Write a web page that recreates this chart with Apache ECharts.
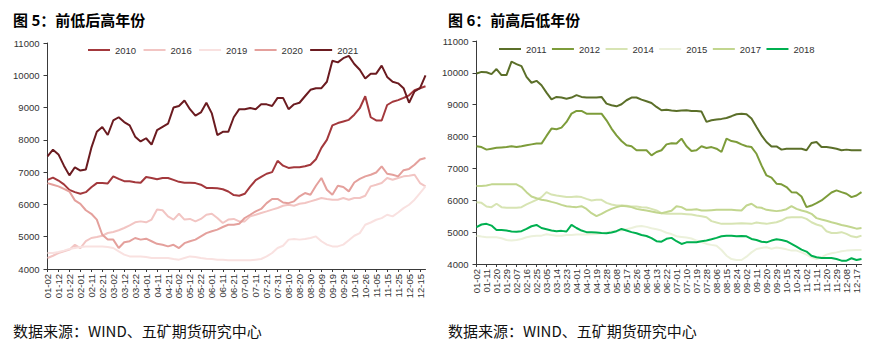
<!DOCTYPE html>
<html>
<head>
<meta charset="utf-8">
<script src="https://cdn.jsdelivr.net/npm/echarts/dist/echarts.min.js"></script>
<style>
html, body { margin: 0; padding: 0; background: #fff; }
#main { width: 871px; height: 351px; }
</style>
</head>
<body>
<div id="main"></div>
<script>
let chart = echarts.init(document.getElementById('main'), null, { renderer: 'svg' });

// 图5 横轴日期（偶数位为显示的刻度标签）
let daysLeft = ['01-02','01-07','01-12','01-17','01-22','01-27','02-01','02-06','02-11','02-16',
	'02-21','02-26','03-02','03-07','03-12','03-17','03-22','03-27','04-01','04-06',
	'04-11','04-16','04-21','04-27','05-02','05-07','05-12','05-17','05-22','05-27',
	'06-01','06-06','06-11','06-16','06-21','06-26','07-01','07-06','07-11','07-16',
	'07-21','07-26','07-31','08-05','08-10','08-15','08-20','08-25','08-30','09-04',
	'09-09','09-14','09-19','09-24','09-29','10-10','10-16','10-21','10-26','10-31',
	'11-05','11-10','11-15','11-20','11-25','11-30','12-05','12-10','12-15','12-20'];

// 图6 横轴日期
let daysRight = ['01-02','01-06','01-11','01-15','01-20','01-24','01-29','02-02','02-07','02-11',
	'02-16','02-20','02-25','03-01','03-05','03-09','03-14','03-18','03-23','03-27',
	'04-01','04-05','04-10','04-14','04-19','04-23','04-28','05-03','05-08','05-12',
	'05-17','05-21','05-26','05-30','06-04','06-08','06-13','06-17','06-22','06-26',
	'07-01','07-05','07-10','07-14','07-19','07-23','07-28','08-01','08-06','08-10',
	'08-15','08-19','08-24','08-28','09-02','09-06','09-11','09-15','09-20','09-24',
	'09-29','10-08','10-15','10-19','10-24','10-28','11-02','11-06','11-11','11-15',
	'11-20','11-24','11-29','12-03','12-08','12-12','12-17','12-21'];

let yearsLeft = ['2010', '2016', '2019', '2020', '2021'];
let yearsRight = ['2011', '2012', '2014', '2015', '2017', '2018'];

// 前低后高年份
let v2010 = [6760,6830,6740,6620,6450,6380,6330,6380,6530,6660,
	6660,6650,6870,6790,6720,6720,6690,6670,6850,6820,
	6780,6820,6820,6760,6700,6670,6670,6660,6610,6510,
	6510,6500,6470,6400,6290,6270,6330,6550,6750,6850,
	6950,7000,7350,7200,7130,7150,7150,7180,7230,7400,
	7750,8000,8450,8520,8570,8620,8780,8980,9350,8700,
	8600,8600,9080,9180,9230,9300,9380,9540,9600,9660];
let v2016 = [4340,4410,4495,4545,4600,4750,4650,4860,4960,4990,
	5030,5115,5145,5200,5270,5350,5445,5475,5445,5530,
	5840,5820,5630,5530,5710,5530,5550,5475,5550,5680,
	5710,5580,5425,5530,5550,5475,5475,5630,5680,5735,
	5785,5840,5890,5960,5990,5960,6020,6043,6095,6146,
	6200,6170,6146,6146,6200,6146,6200,6200,6270,6560,
	6610,6663,6820,6766,6820,6870,6890,6920,6663,6560];
let v2019 = [4495,4495,4525,4570,4620,4650,4680,4700,4700,4700,
	4700,4680,4650,4545,4445,4390,4390,4390,4370,4340,
	4340,4340,4340,4310,4290,4340,4390,4370,4340,4320,
	4310,4290,4290,4270,4270,4270,4270,4270,4290,4310,
	4390,4495,4650,4720,4910,4930,4910,4930,4960,5010,
	4860,4755,4700,4700,4755,4890,5030,5110,5370,5440,
	5525,5575,5680,5630,5750,5885,5990,6146,6353,6560];
let v2020 = [6660,6610,6560,6480,6400,6125,6020,5820,5710,5530,
	5060,4910,4910,4650,4830,4860,4960,4910,4940,4860,
	4780,4750,4700,4750,4650,4800,4860,4910,5010,5110,
	5170,5220,5300,5370,5370,5400,5580,5680,5785,5860,
	6040,6170,6170,6060,6040,6095,6250,6353,6300,6580,
	6820,6455,6300,6580,6540,6405,6680,6790,6870,6920,
	6990,7180,6950,6920,6870,7060,7100,7230,7390,7440];
let v2021 = [7490,7695,7550,7200,6900,7150,7050,7080,7750,8250,
	8400,8150,8600,8700,8550,8450,8100,7950,8050,7850,
	8300,8400,8500,9000,9050,9220,8950,8750,8850,9150,
	8820,8150,8250,8250,8700,8950,8950,8985,8950,9100,
	9100,9050,9300,9300,8950,9100,9150,9350,9550,9600,
	9600,9800,10450,10400,10530,10600,10350,10170,9900,10050,
	10050,10300,9950,9800,9750,9600,9150,9500,9600,10000];

// 前高后低年份
let v2011 = [9980,10030,10020,9960,10120,9930,9930,10350,10275,10210,
	9875,9690,9750,9610,9380,9170,9245,9225,9190,9225,
	9300,9245,9225,9225,9225,9245,9035,8985,8950,9015,
	9140,9225,9225,9160,9110,9055,8930,8825,8840,8820,
	8805,8815,8825,8805,8805,8785,8460,8510,8535,8555,
	8585,8640,8700,8720,8700,8565,8300,8040,7830,7690,
	7690,7590,7620,7620,7620,7620,7570,7800,7830,7675,
	7675,7650,7620,7570,7590,7570,7570,7570];
let v2012 = [7695,7670,7590,7620,7650,7660,7670,7695,7670,7695,
	7725,7755,7780,7780,8020,8250,8230,8280,8460,8720,
	8805,8805,8720,8720,8720,8720,8510,8250,8040,7860,
	7725,7695,7570,7570,7570,7410,7515,7570,7755,7790,
	7780,7935,7695,7545,7570,7695,7640,7670,7620,7515,
	7935,7860,7830,7755,7695,7670,7460,7095,6780,6710,
	6520,6500,6415,6255,6245,6120,5785,5835,5910,5995,
	6120,6245,6310,6255,6205,6100,6150,6255];
let v2014 = [5940,5920,5805,5785,5890,5785,5765,5765,5765,5785,
	5870,5940,6015,6100,6255,6180,6150,6130,6100,6100,
	6120,6100,6045,5995,6015,6015,5920,5870,5835,5835,
	5825,5805,5805,5785,5775,5730,5680,5595,5575,5575,
	5575,5575,5565,5555,5520,5500,5470,5345,5300,5260,
	5260,5260,5270,5280,5270,5260,5300,5280,5260,5290,
	5310,5365,5450,5470,5470,5470,5415,5310,5240,5195,
	5030,4975,4975,5000,4945,4870,4840,4890];
let v2015 = [4890,4860,4840,4840,4840,4810,4755,4735,4755,4785,
	4840,4870,4890,4890,4935,4910,4890,4890,4910,4910,
	4925,4925,4925,4935,4945,4965,4990,5020,5040,5050,
	5090,5130,5175,5195,5165,5120,5090,5050,4980,4940,
	4870,4850,4830,4800,4735,4690,4630,4600,4575,4440,
	4260,4155,4125,4125,4230,4365,4470,4505,4525,4480,
	4515,4495,4460,4420,4420,4365,4295,4210,4155,4210,
	4295,4335,4365,4400,4420,4430,4440,4440];
let v2017 = [6445,6445,6465,6500,6500,6500,6500,6500,6500,6415,
	6255,6120,6065,6015,5995,5950,5910,5855,5815,5795,
	5785,5815,5730,5595,5500,5575,5660,5730,5785,5825,
	5815,5785,5730,5700,5680,5650,5615,5595,5630,5670,
	5815,5785,5700,5700,5720,5680,5680,5690,5700,5700,
	5700,5700,5690,5680,5835,5890,5785,5765,5700,5680,
	5660,5680,5720,5815,5730,5680,5640,5575,5440,5395,
	5355,5310,5270,5225,5195,5155,5110,5130];
let v2018 = [5155,5240,5260,5205,5070,5070,5050,5020,5010,5030,
	5100,5185,5225,5130,5090,5050,5030,5040,5020,5230,
	5130,5050,5000,5000,4990,4975,4965,4990,5030,5100,
	5050,5000,4965,4910,4880,4810,4715,4700,4790,4820,
	4715,4630,4680,4680,4680,4715,4735,4775,4820,4870,
	4890,4890,4870,4880,4870,4785,4755,4700,4680,4735,
	4775,4755,4715,4630,4545,4450,4390,4260,4210,4190,
	4190,4190,4155,4105,4105,4180,4125,4155];

let dataLeft = [v2010, v2016, v2019, v2020, v2021];
let dataRight = [v2011, v2012, v2014, v2015, v2017, v2018];
let colorsLeft = ['#A3383C', '#F2C5C3', '#F9E1E0', '#E4A09C', '#6B1B20'];
let colorsRight = ['#5B6F29', '#7D9C3A', '#D7E4B3', '#ECF1DB', '#C2D68F', '#00B050'];

let axisColor = '#3a3a3a';
let numFont = 'Liberation Sans, Arial, sans-serif';
let cnFont = 'Noto Sans CJK SC, sans-serif';

function buildY(idx) {
	return {
		gridIndex : idx,
		type : 'value',
		min : 4000,
		max : 11000,
		interval : 1000,
		axisLine : { show : true, lineStyle : { color : axisColor, width : 1 } },
		axisTick : { show : true, length : 4, lineStyle : { color : axisColor } },
		axisLabel : { fontSize : 9.5, color : '#333', margin : 8, fontFamily : numFont,
			formatter : function(v) { return String(v); } },
		splitLine : { show : false }
	};
}
function buildX(idx, days) {
	return {
		gridIndex : idx,
		type : 'category',
		boundaryGap : false,
		data : days,
		axisLine : { lineStyle : { color : axisColor, width : 1 } },
		axisTick : { interval : 1, length : 3, lineStyle : { color : axisColor } },
		axisLabel : { rotate : 90, interval : 1, fontSize : 9.5, color : '#333', margin : 5, fontFamily : numFont },
		splitLine : { show : false }
	};
}
function buildSeries(names, datas, colors, idx) {
	return names.map(function(name, i) {
		return {
			name : name,
			type : 'line',
			xAxisIndex : idx,
			yAxisIndex : idx,
			data : datas[i],
			symbol : 'none',
			animation : false,
			lineStyle : { width : 2, color : colors[i] },
			itemStyle : { color : colors[i] }
		};
	});
}

let option = {
	backgroundColor : '#fff',
	animation : false,
	title : [
		{ text : '图 5：前低后高年份', left : 8, top : 7, textStyle : { fontSize : 15, fontWeight : 'bold', color : '#000', fontFamily : cnFont } },
		{ text : '图 6：前高后低年份', left : 443, top : 7, textStyle : { fontSize : 15, fontWeight : 'bold', color : '#000', fontFamily : cnFont } },
		{ text : '数据来源：WIND、五矿期货研究中心', left : 8, top : 318, textStyle : { fontSize : 15, fontWeight : 'normal', color : '#111', fontFamily : cnFont } },
		{ text : '数据来源：WIND、五矿期货研究中心', left : 443, top : 318, textStyle : { fontSize : 15, fontWeight : 'normal', color : '#111', fontFamily : cnFont } }
	],
	legend : [
		{ data : yearsLeft, left : 88, top : 45, padding : 0, icon : 'rect', itemWidth : 22, itemHeight : 2, itemGap : 7.4,
			textStyle : { fontSize : 9.5, color : '#333', fontFamily : numFont } },
		{ data : yearsRight, left : 499, top : 44, padding : 0, icon : 'rect', itemWidth : 22, itemHeight : 2, itemGap : 5.5,
			textStyle : { fontSize : 9.5, color : '#333', fontFamily : numFont } }
	],
	grid : [
		{ left : 47.5, top : 43, width : 378, height : 226 },
		{ left : 476.5, top : 41, width : 385, height : 223 }
	],
	xAxis : [buildX(0, daysLeft), buildX(1, daysRight)],
	yAxis : [buildY(0), buildY(1)],
	series : buildSeries(yearsLeft, dataLeft, colorsLeft, 0).concat(buildSeries(yearsRight, dataRight, colorsRight, 1))
};
chart.setOption(option);
</script>
</body>
</html>
